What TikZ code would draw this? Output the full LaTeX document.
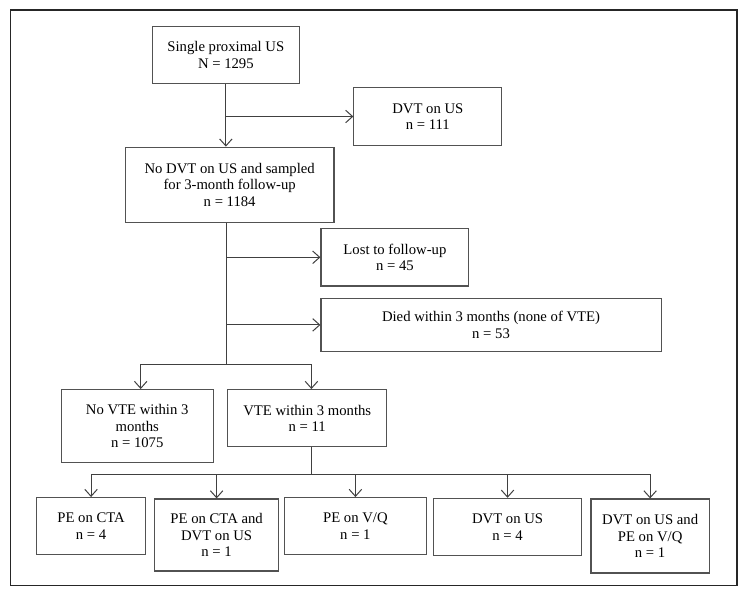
\documentclass[tikz,border=0pt]{standalone}
\usepackage{fontspec}
\setmainfont{Liberation Serif}
\usetikzlibrary{arrows.meta}
\begin{document}
\begin{tikzpicture}[x=0.995pt,y=-1pt,
  box/.style={draw=black!68, line width=1.1pt, align=center, inner sep=0pt,
    font=\fontsize{14.7}{16.5}\selectfont},
  conn/.style={draw=black!75, line width=1pt},
  arr/.style={conn, -{Straight Barb[length=7pt,width=12.5pt,line width=1pt]}}]
\useasboundingbox (0,0) rectangle (751.76,596);
\node[draw=black!85, line width=1.4pt, minimum width=726.7pt, minimum height=575.3pt, inner sep=0pt] (frame) at (375.5,297.65) {};

\node[box, minimum width=147.3pt, minimum height=57pt] (b1) at (227,55.2) {Single proximal US\\N = 1295};
\node[box, minimum width=147.9pt, minimum height=57.5pt] (dvt) at (430,116.5) {DVT on US\\n = 111};
\node[box, minimum width=208.6pt, minimum height=75.4pt] (b2) at (230.8,184.9) {No DVT on US and sampled\\for 3-month follow-up\\n = 1184};
\node[box, minimum width=147.9pt, minimum height=57.4pt] (lost) at (396.9,257.3) {Lost to follow-up\\n = 45};
\node[box, minimum width=340.1pt, minimum height=52.5pt] (died) at (493.5,324.9) {Died within 3 months (none of VTE)\\n = 53};
\node[box, minimum width=152.1pt, minimum height=72.8pt] (novte) at (137.9,426) {No VTE within 3\\months\\n = 1075};
\node[box, minimum width=159.3pt, minimum height=57.2pt] (vte) at (308.8,418.2) {VTE within 3 months\\n = 11};
\node[box, minimum width=109.7pt, minimum height=56.8pt] (c1) at (91.5,526) {PE on CTA\\n = 4};
\node[box, minimum width=124.1pt, minimum height=72pt] (c2) at (217.7,535) {PE on CTA and\\DVT on US\\n = 1};
\node[box, minimum width=142.2pt, minimum height=56.8pt] (c3) at (357.2,526) {PE on V/Q\\n = 1};
\node[box, minimum width=147.9pt, minimum height=57.1pt] (c4) at (510.1,526.9) {DVT on US\\n = 4};
\node[box, minimum width=118.2pt, minimum height=74pt] (c5) at (653.4,536) {DVT on US and\\PE on V/Q\\n = 1};

% top part
\draw[arr] (b1.south) -- (b1.south |- b2.north);
\draw[arr] (b1.south |- dvt.west) -- (dvt.west);

% from b2
\coordinate (j1) at ([xshift=-3.6pt]b2.south);
\coordinate (j2) at (j1 |- 0,364.4);
\draw[conn] (j1) -- (j2);
\draw[arr] (j1 |- lost.west) -- (lost.west);
\draw[arr] (j1 |- died.west) -- (died.west);
\coordinate (a1) at (141.4,364.4);
\coordinate (a2) at (313,364.4);
\draw[conn] (a1) -- (a2);
\draw[arr] (a1) -- (a1 |- novte.north);
\draw[arr] (a2) -- (a2 |- vte.north);

% from vte
\coordinate (v1) at ([xshift=4.2pt]vte.south);
\coordinate (bus) at (v1 |- 0,474.4);
\draw[conn] (v1) -- (bus);
\draw[conn] (c1.north |- bus) -- (c5.north |- bus);
\foreach \c in {c1,c2,c3,c4,c5}{
  \draw[arr] (\c.north |- bus) -- (\c.north);
}
\end{tikzpicture}
\end{document}
